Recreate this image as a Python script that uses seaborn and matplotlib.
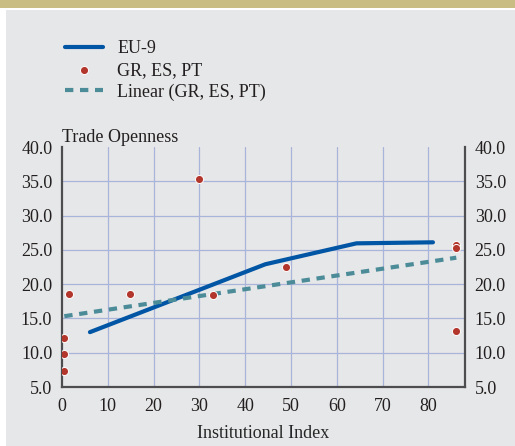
import numpy as np
import pandas as pd
import matplotlib
matplotlib.use("Agg")
import matplotlib.pyplot as plt
import seaborn as sns
from matplotlib.patches import Rectangle

# Datos.
eu9_x = [6.1, 44.4, 64.3, 81.0]
eu9_y = [13.0, 22.9, 25.95, 26.1]

sur_x = [0.5, 0.5, 0.5, 1.6, 14.9, 29.9, 32.9, 49.0, 86.1, 86.1, 86.1]
sur_y = [12.2, 9.8, 7.3, 18.5, 18.6, 35.3, 18.4, 22.5, 25.7, 25.2, 13.2]

x_ticks = [0, 10, 20, 30, 40, 50, 60, 70, 80]
y_ticks = [5.0, 10.0, 15.0, 20.0, 25.0, 30.0, 35.0, 40.0]

BG = "#E6E7E8"
AZUL = "#0055A5"
ROJO = "#B3362C"
TEAL = "#4C8C99"
REJILLA = "#A9B4DA"
FS = 13

sns.set_theme(style="white")
plt.rcParams["font.family"] = ["Liberation Serif", "DejaVu Serif"]
plt.rcParams["text.color"] = "#231F20"

fig = plt.figure(figsize=(5.15, 4.46), dpi=100)
fig.patch.set_facecolor("white")
# Franja superior y panel gris.
fig.patches.append(Rectangle((0, 1 - 8 / 446), 1, 8 / 446, transform=fig.transFigure,
                             facecolor="#C9BD83", edgecolor="none", zorder=-5))
fig.patches.append(Rectangle((6 / 515, 0), 1, 1 - 10 / 446, transform=fig.transFigure,
                             facecolor=BG, edgecolor="none", zorder=-5))

ax = fig.add_axes([62 / 515, 1 - 387 / 446, (465 - 62) / 515, (387 - 147) / 446])
ax.set_zorder(2)
ax.set_facecolor(BG)

df_eu = pd.DataFrame({"x": eu9_x, "y": eu9_y})
df_sur = pd.DataFrame({"x": sur_x, "y": sur_y})

sns.lineplot(data=df_eu, x="x", y="y", ax=ax, color=AZUL, linewidth=3.0,
             label="EU-9", zorder=3)
sns.scatterplot(data=df_sur, x="x", y="y", ax=ax, color=ROJO, s=34,
                edgecolor="white", linewidth=0.7, label="GR, ES, PT", zorder=5)
sns.regplot(data=df_sur, x="x", y="y", ax=ax, scatter=False, ci=None, truncate=True,
            line_kws={"color": TEAL, "linewidth": 3.0, "linestyle": (0, (2.0, 1.6)),
                      "zorder": 4})
ax.lines[-1].set_label("Linear (GR, ES, PT)")

ax.set_xlim(0, 88)
ax.set_ylim(5, 40)
ax.set_xticks(x_ticks)
ax.set_yticks(y_ticks)
ax.set_yticklabels([f"{v:.1f}" for v in y_ticks])
ax.grid(True, color=REJILLA, linewidth=0.9)
ax.set_axisbelow(True)
ax.get_ygridlines()[-1].set_visible(False)
ax.get_xgridlines()[0].set_visible(False)

for lado in ["left", "bottom", "right"]:
    ax.spines[lado].set_color("#4D4D4F")
    ax.spines[lado].set_linewidth(1.6)
ax.spines["top"].set_visible(False)

ax.tick_params(axis="both", labelsize=FS, colors="#231F20", length=3, width=1,
               direction="out")
ax.tick_params(axis="y", length=0, pad=7, right=True, labelright=True)
ax.tick_params(axis="x", pad=5, color="#4D4D4F")

ax.set_xlabel("Institutional Index", fontsize=FS, labelpad=7)
ax.set_ylabel("")
ax.text(0.0, 1.005, "Trade Openness", transform=ax.transAxes, fontsize=FS,
        ha="left", va="bottom")

handles, labels = ax.get_legend_handles_labels()
if ax.legend_:
    ax.legend_.remove()
fig.legend(handles, labels, loc="upper left", bbox_to_anchor=(65 / 515, 1 - 40 / 446),
           frameon=False, fontsize=FS, handlelength=2.1, handletextpad=0.8,
           labelspacing=0.26, scatterpoints=1, borderaxespad=0, borderpad=0)

plt.savefig("out.png", dpi=100, facecolor=fig.get_facecolor())
plt.close()
